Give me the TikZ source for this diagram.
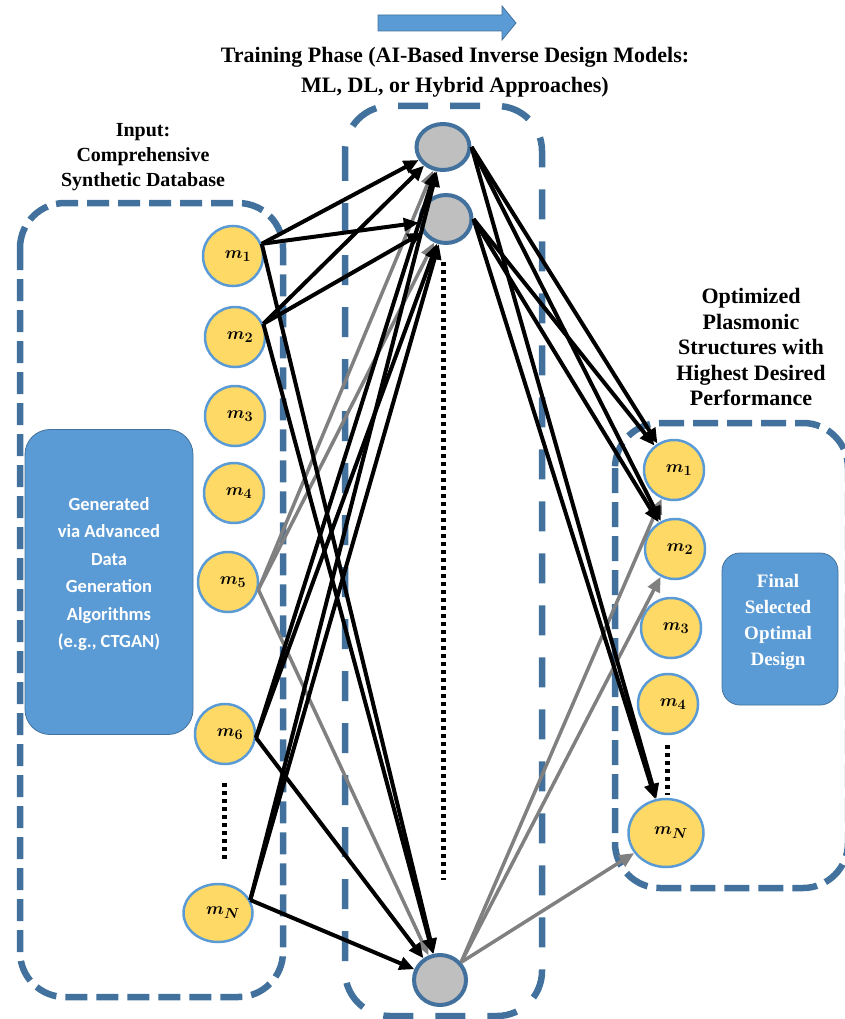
\documentclass[tikz,border=0pt]{standalone}
\usepackage{fontspec}
\setmainfont{Liberation Serif}
\newfontfamily\calfont{Carlito}
\usetikzlibrary{arrows.meta,shapes.geometric}
\definecolor{dashblue}{RGB}{65,113,156}
\definecolor{boxblue}{RGB}{91,155,213}
\definecolor{nodeyellow}{RGB}{255,217,102}
\definecolor{ringblue}{RGB}{91,155,213}
\definecolor{hidgray}{RGB}{191,191,191}
\definecolor{arrgray}{RGB}{128,128,128}
\newcommand\mlab[1]{\hspace*{10pt}$m_{#1}$}
\tikzset{
  container/.style={draw=dashblue, line width=6.5pt, rounded corners=45pt},
  inp/.style={circle, draw=ringblue, line width=2.5pt, fill=nodeyellow, minimum size=60pt, inner sep=0pt, font=\fontsize{19}{19}\selectfont\boldmath},
  inpe/.style={ellipse, draw=ringblue, line width=2.5pt, fill=nodeyellow, inner sep=0pt, font=\fontsize{19}{19}\selectfont\boldmath},
  hid/.style={ellipse, draw=dashblue, line width=4pt, fill=hidgray, inner sep=0pt},
  blk/.style={line width=4pt, black, -{Triangle[length=15pt,width=13pt]}},
  gry/.style={line width=3.5pt, arrgray, -{Triangle[length=15pt,width=13pt]}},
  dotline/.style={line width=5pt, dash pattern=on 4pt off 4pt},
  bluebox/.style={draw=dashblue, line width=0.8pt, fill=boxblue},
  ttl/.style={align=center, font=\bfseries\fontsize{22}{30}\selectfont},
}
\begin{document}
\begin{tikzpicture}[x=1pt,y=-1pt]
\useasboundingbox (0,0) rectangle (845,1019);
\clip (0,0) rectangle (845,1019);

% containers
\draw[container, dash pattern=on 22pt off 9pt] (20,203) rectangle (283,997);
\draw[container, dash pattern=on 30pt off 22pt] (345,106) rectangle (542,1016);
\draw[container, dash pattern=on 25pt off 9pt] (615,423) rectangle (848,888);

% top arrow
\filldraw[fill=boxblue, draw=dashblue, line width=0.8pt]
  (378,15) -- (502,15) -- (502,6) -- (516,23) -- (502,40) -- (502,31) -- (378,31) -- cycle;

% titles
\node[ttl] (title) at (455,72) {Training Phase (AI-Based Inverse Design Models:\\ML, DL, or Hybrid Approaches)};
\node[align=center, font=\bfseries\fontsize{20}{25}\selectfont] (intitle) at (143,157) {Input:\\Comprehensive\\Synthetic Database};
\node[align=center, font=\bfseries\fontsize{22}{25.5}\selectfont] (outtitle) at (751,347) {Optimized\\Plasmonic\\Structures with\\Highest Desired\\Performance};

% blue boxes
\node[bluebox, rounded corners=25pt, minimum width=168pt, minimum height=305pt] (gen) at (109,582) {};
\node[align=center, text=white, font=\calfont\bfseries\fontsize{18.5}{27.5}\selectfont] (gentext) at (109,574) {Generated\\via Advanced\\Data\\Generation\\Algorithms\\(e.g., CTGAN)};
\node[bluebox, rounded corners=18pt, minimum width=116pt, minimum height=152pt] (fin) at (780,629) {};
\node[align=center, text=white, font=\bfseries\fontsize{19}{26}\selectfont] (fintext) at (778,622) {Final\\Selected\\Optimal\\Design};

% input nodes
\node[inp] (L1) at (233,256) {\mlab{1}};
\node[inp] (L2) at (235,337) {\mlab{2}};
\node[inp] (L3) at (235,416) {\mlab{3}};
\node[inp] (L4) at (234,493) {\mlab{4}};
\node[inp] (L5) at (228,582) {\mlab{5}};
\node[inp] (L6) at (225,734) {\mlab{6}};
\node[inpe, minimum width=69pt, minimum height=58pt] (LN) at (218,913) {\mlab{N}};

% hidden nodes
\node[hid, minimum width=53pt, minimum height=46pt] (H1) at (443,147) {};
\node[hid, minimum width=51pt, minimum height=48pt] (H2) at (446,219) {};
\node[hid, minimum width=52pt, minimum height=50pt] (H3) at (440,980) {};

% output nodes
\node[inp] (R1) at (674,470) {\mlab{1}};
\node[inp] (R2) at (675,549) {\mlab{2}};
\node[inp] (R3) at (671,628) {\mlab{3}};
\node[inp] (R4) at (668,704) {\mlab{4}};
\node[inpe, minimum width=75pt, minimum height=68pt] (RN) at (666,833) {\mlab{N}};

% dotted ellipses
\draw[dotline] (224,783) -- (224,860);
\draw[dotline] (443,262) -- (443,880);
\draw[dotline] (667,745) -- (667,795);

% gray connections
\foreach \h in {H1,H2,H3} \draw[gry] (L5.-14) -- (\h);
\foreach \r in {R1,R2,RN} \draw[gry] (H3.40) -- (\r);

% black connections
\foreach \s/\a in {L1/23,L2/25,L6/-7,LN/22}
  \foreach \h in {H1,H2,H3} \draw[blk] (\s.\a) -- (\h);
\foreach \h in {H1,H2}
  \foreach \r in {R1,R2,RN} \draw[blk] (\h.east) -- (\r);
\end{tikzpicture}
\end{document}
